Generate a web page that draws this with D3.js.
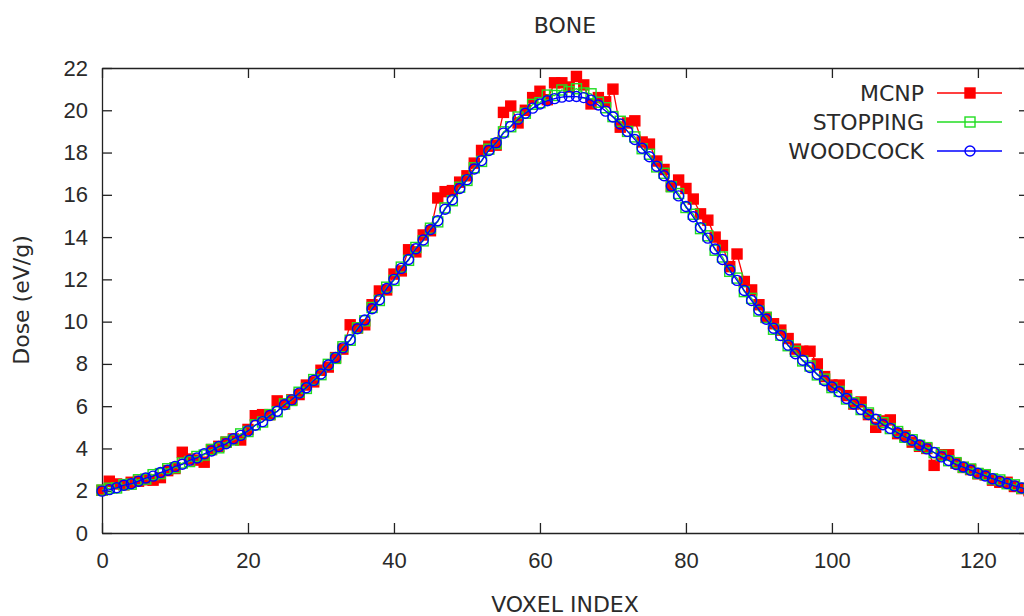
<!doctype html>
<meta charset="utf-8">
<style>
body { margin: 0; background: #fff; }
svg { display: block; font-family: "DejaVu Sans", sans-serif; }
.tick text { font-size: 22px; fill: #2a2a2a; }
.domain, .tick line { stroke: #222; stroke-width: 1.3; }
.lbl { font-size: 22px; fill: #2a2a2a; }
</style>
<svg id="chart" width="1024" height="616"></svg>
<script src="https://d3js.org/d3.v7.min.js"></script>
<script>
// dose per voxel, index 0..127
var mcnp = [2.02,2.45,2.32,2.28,2.40,2.45,2.52,2.50,2.62,2.95,3.05,3.82,3.50,3.45,3.35,3.95,4.10,4.30,4.45,4.40,4.90,5.55,5.60,5.60,6.25,6.10,6.30,6.55,7.00,7.15,
  7.70,7.85,8.30,8.70,9.85,9.70,9.85,10.80,11.45,11.50,12.25,12.40,13.40,13.30,14.10,14.30,15.85,16.15,16.20,16.60,16.90,17.50,18.10,18.30,18.35,19.90,20.20,19.40,20.00,20.60,
  20.90,20.50,21.30,21.30,21.10,21.60,21.20,20.30,20.60,20.40,21.00,19.20,19.40,19.50,18.50,18.40,17.60,17.20,16.40,16.70,16.30,15.80,15.10,14.80,14.00,13.60,12.60,13.20,11.90,11.50,
  10.80,10.20,9.90,9.60,9.20,8.70,8.60,8.60,8.00,7.40,7.00,7.00,6.50,6.10,6.20,5.60,5.00,5.30,5.35,4.70,4.60,4.30,4.10,4.00,3.20,3.70,3.70,3.30,3.10,3.00,
  2.80,2.75,2.50,2.40,2.40,2.20,2.10,2.00];
var stopping = [2.03,2.12,2.13,2.29,2.31,2.52,2.55,2.76,2.81,3.04,3.09,3.31,3.38,3.62,3.69,3.95,4.03,4.30,4.40,4.69,4.80,5.12,5.25,5.60,5.74,6.11,6.27,6.66,6.84,7.26,
  7.49,7.98,8.26,8.81,9.12,9.71,10.04,10.67,11.00,11.63,11.95,12.58,12.90,13.51,13.82,14.42,14.72,15.38,15.72,16.36,16.68,17.28,17.58,18.16,18.42,18.98,19.22,19.68,19.86,20.28,
  20.36,20.72,20.70,20.96,20.88,21.02,20.82,20.78,20.38,20.12,19.70,19.48,19.00,18.74,18.18,17.92,17.32,17.02,16.38,16.06,15.40,15.08,14.40,14.06,13.38,13.06,12.38,12.06,11.42,11.10,
  10.50,10.20,9.64,9.36,8.86,8.60,8.14,7.90,7.48,7.28,6.88,6.70,6.34,6.16,5.84,5.68,5.36,5.22,4.94,4.80,4.53,4.41,4.15,4.04,3.80,3.67,3.42,3.33,3.11,3.03,
  2.82,2.76,2.56,2.51,2.33,2.28,2.12,2.08];
var woodcock = [1.98,2.05,2.14,2.26,2.33,2.45,2.60,2.69,2.86,2.97,3.15,3.25,3.44,3.55,3.75,3.88,4.09,4.22,4.46,4.62,4.83,5.10,5.27,5.56,5.76,6.07,6.30,6.62,6.87,7.22,
  7.52,7.95,8.30,8.76,9.15,9.66,10.08,10.61,11.04,11.57,12.00,12.52,12.94,13.45,13.86,14.36,14.77,15.32,15.77,16.30,16.72,17.22,17.62,18.10,18.46,18.92,19.24,19.58,19.86,20.10,
  20.30,20.45,20.55,20.62,20.66,20.65,20.60,20.48,20.25,19.96,19.68,19.35,19.00,18.62,18.20,17.80,17.35,16.90,16.42,15.95,15.45,14.96,14.45,13.95,13.44,12.94,12.44,11.95,11.47,11.00,
  10.55,10.11,9.69,9.34,8.89,8.48,8.17,7.83,7.51,7.20,6.91,6.68,6.36,6.10,5.85,5.61,5.38,5.12,4.95,4.74,4.54,4.39,4.16,3.98,3.81,3.60,3.43,3.24,3.12,2.97,
  2.83,2.70,2.57,2.45,2.34,2.23,2.13,2.03];

var seriesNames = ["MCNP", "STOPPING", "WOODCOCK"];
var xTicks = [0, 20, 40, 60, 80, 100, 120];
var yTicks = [0, 2, 4, 6, 8, 10, 12, 14, 16, 18, 20, 22];

var series = [
  {name: seriesNames[0], values: mcnp, color: "#ff0000", shape: "fsquare"},
  {name: seriesNames[1], values: stopping, color: "#22dd22", shape: "square"},
  {name: seriesNames[2], values: woodcock, color: "#0000ff", shape: "circle"}
];

var svg = d3.select("#chart");
var pLeft = 102, pRight = 1029, pTop = 68, pBottom = 533;

var x = d3.scaleLinear().domain([0, 127]).range([pLeft, pRight]);
var y = d3.scaleLinear().domain([0, 22]).range([pBottom, pTop]);

// axes, gnuplot style: ticks inside, mirrored on top and right
svg.append("g")
  .attr("transform", "translate(0," + pBottom + ")")
  .call(d3.axisBottom(x).tickValues(xTicks).tickSizeInner(-10).tickSizeOuter(0).tickPadding(19));
svg.append("g")
  .attr("transform", "translate(0," + pTop + ")")
  .call(d3.axisTop(x).tickValues(xTicks).tickSizeInner(-10).tickSizeOuter(0).tickFormat(""));
svg.append("g")
  .attr("transform", "translate(" + pLeft + ",0)")
  .call(d3.axisLeft(y).tickValues(yTicks).tickSizeInner(-10).tickSizeOuter(0).tickPadding(14));
svg.append("g")
  .attr("transform", "translate(" + pRight + ",0)")
  .call(d3.axisRight(y).tickValues(yTicks).tickSizeInner(-10).tickSizeOuter(0).tickFormat(""));
svg.selectAll(".tick text").attr("font-family", null).attr("font-size", null);

function marker(g, shape, color, cx, cy) {
  if (shape == "circle") {
    g.append("circle").attr("cx", cx).attr("cy", cy).attr("r", 5)
      .attr("fill", "none").attr("stroke", color).attr("stroke-width", 1.4);
  } else {
    g.append("rect").attr("x", cx - 5).attr("y", cy - 5).attr("width", 10).attr("height", 10)
      .attr("fill", shape == "fsquare" ? color : "none")
      .attr("stroke", color).attr("stroke-width", 1.4);
  }
}

var line = d3.line().x((d, i) => x(i)).y(d => y(d));

series.forEach(function(s) {
  var g = svg.append("g");
  g.append("path").datum(s.values).attr("d", line)
    .attr("fill", "none").attr("stroke", s.color).attr("stroke-width", 1.3);
  s.values.forEach(function(v, i) { marker(g, s.shape, s.color, x(i), y(v)); });
});

// legend
var legendY = [93, 122, 151];
series.forEach(function(s, i) {
  var g = svg.append("g");
  g.append("text").attr("class", "lbl").attr("x", 924).attr("y", legendY[i])
    .attr("dy", "0.35em").attr("text-anchor", "end").text(s.name);
  g.append("line").attr("x1", 937).attr("x2", 1002).attr("y1", legendY[i]).attr("y2", legendY[i])
    .attr("stroke", s.color).attr("stroke-width", 1.3);
  marker(g, s.shape, s.color, 970, legendY[i]);
});

// titles
svg.append("text").attr("class", "lbl").attr("x", 565).attr("y", 33)
  .attr("text-anchor", "middle").text("BONE");
svg.append("text").attr("class", "lbl").attr("x", 565).attr("y", 612)
  .attr("text-anchor", "middle").text("VOXEL INDEX");
svg.append("text").attr("class", "lbl")
  .attr("transform", "translate(29,300) rotate(-90)")
  .attr("text-anchor", "middle").text("Dose (eV/g)");
</script>
